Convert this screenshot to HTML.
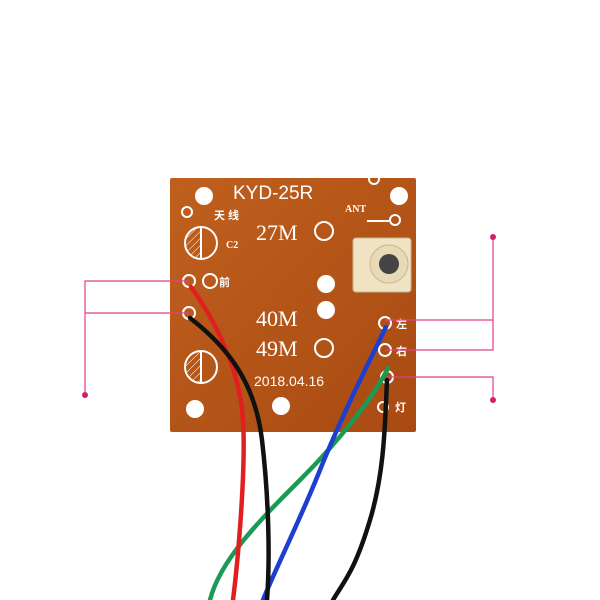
<!DOCTYPE html>
<html><head><style>body{margin:0;background:#fff}svg{display:block}</style></head><body>
<svg width="600" height="600" viewBox="0 0 600 600" xmlns="http://www.w3.org/2000/svg" font-family="Liberation Serif, Noto Serif CJK SC, serif">
<defs><linearGradient id="b" x1="0" y1="0" x2="1" y2="1"><stop offset="0" stop-color="#c0601e"/><stop offset="1" stop-color="#a84a12"/></linearGradient>
<pattern id="h" width="5" height="5" patternUnits="userSpaceOnUse" patternTransform="rotate(45)"><line x1="0" y1="0" x2="0" y2="5" stroke="#fff" stroke-width="1"/></pattern></defs>
<rect x="170" y="178" width="246" height="254" fill="url(#b)" rx="2"/>
<g fill="#fff"><circle cx="204" cy="196" r="9"/><circle cx="399" cy="196" r="9"/><circle cx="195" cy="409" r="9"/><circle cx="281" cy="406" r="9"/><circle cx="326" cy="284" r="9"/><circle cx="326" cy="310" r="9"/></g>
<g fill="none" stroke="#fff" stroke-width="2"><circle cx="324" cy="231" r="9"/><circle cx="324" cy="348" r="9"/><circle cx="187" cy="212" r="5"/><circle cx="374" cy="179" r="5"/><circle cx="395" cy="220" r="5"/><line x1="367" y1="221" x2="389" y2="221"/><circle cx="189" cy="281" r="6"/><circle cx="210" cy="281" r="7"/><circle cx="189" cy="313" r="6"/><circle cx="385" cy="323" r="6"/><circle cx="385" cy="350" r="6"/><circle cx="387" cy="377" r="6"/><circle cx="383" cy="407" r="5"/>
<circle cx="201" cy="243" r="16"/><circle cx="201" cy="367" r="16"/><line x1="201" y1="227" x2="201" y2="259"/><line x1="201" y1="351" x2="201" y2="383"/></g>
<path d="M201 227 A16 16 0 0 0 201 259Z" fill="url(#h)"/><path d="M201 351 A16 16 0 0 0 201 383Z" fill="url(#h)"/>
<g fill="#fff"><text x="233" y="199" font-size="19" font-family="Liberation Sans, sans-serif">KYD-25R</text>
<text x="345" y="212" font-size="10" font-weight="bold">ANT</text>
<text x="214" y="219" font-size="11" font-weight="bold" font-family="Liberation Sans, Noto Sans CJK SC, sans-serif">天 线</text>
<text x="226" y="248" font-size="10" font-weight="bold">C2</text>
<text x="256" y="240" font-size="22">27M</text><text x="256" y="326" font-size="22">40M</text><text x="256" y="356" font-size="22">49M</text>
<text x="254" y="386" font-size="14" font-family="Liberation Sans, sans-serif">2018.04.16</text>
<text x="219" y="286" font-size="11" font-weight="bold" font-family="Liberation Sans, Noto Sans CJK SC, sans-serif">前</text>
<text x="396" y="328" font-size="11" font-weight="bold" font-family="Liberation Sans, Noto Sans CJK SC, sans-serif">左</text>
<text x="396" y="355" font-size="11" font-weight="bold" font-family="Liberation Sans, Noto Sans CJK SC, sans-serif">右</text>
<text x="395" y="411" font-size="11" font-weight="bold" font-family="Liberation Sans, Noto Sans CJK SC, sans-serif">灯</text></g>
<rect x="353" y="238" width="58" height="54" rx="3" fill="#efe3c4" stroke="#c9b78f"/>
<circle cx="389" cy="264" r="19" fill="#e8dab6" stroke="#c8b68c"/><circle cx="389" cy="264" r="10" fill="#444"/>
<g fill="none" stroke-width="4.5" stroke-linecap="round">
<path d="M388 368 C 375 395, 340 440, 300 480 S 220 560, 210 600" stroke="#1a9a55"/>
<path d="M386 327 C 365 370, 340 420, 320 470 S 275 570, 263 600" stroke="#1d3ecf"/>
<path d="M191 287 C 215 320, 240 370, 243 420 S 238 560, 233 600" stroke="#e02020"/>
<path d="M190 318 C 225 345, 255 380, 262 440 S 270 560, 267 600" stroke="#111"/>
<path d="M387 380 C 385 420, 385 470, 370 520 S 345 580, 333 600" stroke="#111"/></g>
<g stroke="#e0408a" stroke-width="1.2" fill="none"><path d="M189 281 H85 V395"/><path d="M189 313 H85"/><path d="M385 320 H493 V237"/><path d="M385 350 H493 V320"/><path d="M387 377 H493 V400"/></g>
<g fill="#d0206a"><circle cx="85" cy="395" r="3"/><circle cx="493" cy="237" r="3"/><circle cx="493" cy="400" r="3"/></g>
</svg>
</body></html>
